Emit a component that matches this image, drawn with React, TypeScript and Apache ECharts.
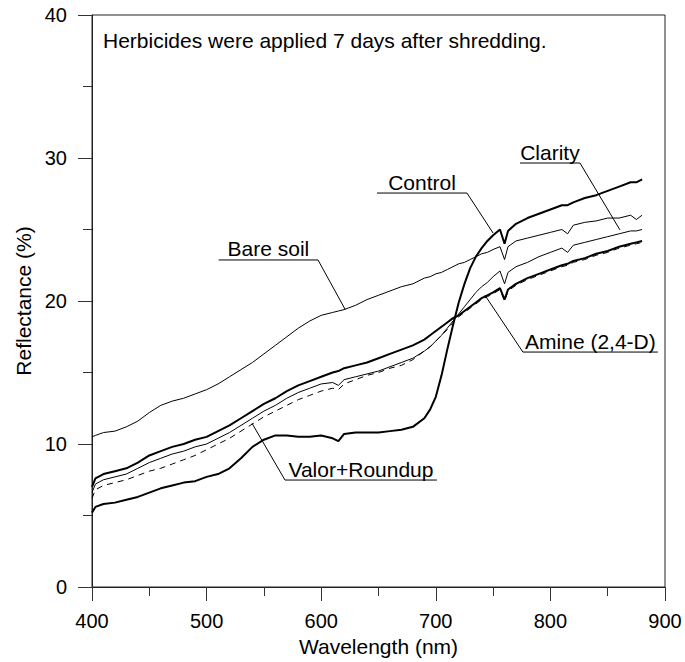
import React, { useEffect, useRef } from "react";
import * as echarts from "echarts";

// Wavelength (nm)
const wavelengths = [
  400, 403, 410, 420, 430, 440, 450, 460, 470, 480, 490, 500, 510, 520, 530, 540, 550, 560, 570, 580, 590, 600, 610, 615,
  620, 630, 640, 650, 660, 670, 680, 690, 695, 700, 705, 710, 715, 720, 725, 730, 735, 740, 745, 750, 756, 760, 763,
  770, 780, 790, 800, 810, 815, 820, 830, 840, 850, 860, 870, 875, 880,
];

// Reflectance (%)
const bareSoil = [
  10.5, 10.6, 10.8, 10.9, 11.2, 11.6, 12.2, 12.7, 13.0, 13.2, 13.5, 13.8, 14.2, 14.7, 15.2, 15.7, 16.3, 16.9, 17.5, 18.1, 18.6, 19.0, 19.2, 19.3,
  19.4, 19.7, 20.1, 20.4, 20.7, 21.0, 21.2, 21.6, 21.7, 21.9, 22.0, 22.2, 22.4, 22.6, 22.7, 22.9, 23.1, 23.3, 23.4, 23.6, 23.8, 22.9, 23.8,
  24.2, 24.4, 24.6, 24.8, 25.0, 24.7, 25.3, 25.5, 25.6, 25.8, 25.8, 26.0, 25.7, 26.0,
];
const control = [
  5.2, 5.6, 5.8, 5.9, 6.1, 6.3, 6.6, 6.9, 7.1, 7.3, 7.4, 7.7, 7.9, 8.3, 9.0, 9.8, 10.3, 10.6, 10.6, 10.5, 10.5, 10.6, 10.4, 10.2,
  10.7, 10.8, 10.8, 10.8, 10.9, 11.0, 11.2, 11.8, 12.4, 13.3, 14.8, 16.6, 18.3, 19.9, 21.2, 22.3, 23.1, 23.7, 24.2, 24.6, 25.0, 24.0, 24.9,
  25.4, 25.8, 26.1, 26.4, 26.7, 26.7, 26.9, 27.2, 27.4, 27.7, 28.0, 28.3, 28.3, 28.5,
];
const amine = [
  7.0, 7.6, 7.9, 8.1, 8.3, 8.7, 9.2, 9.5, 9.8, 10.0, 10.3, 10.5, 10.9, 11.3, 11.8, 12.3, 12.8, 13.2, 13.7, 14.1, 14.4, 14.7, 15.0, 15.1,
  15.3, 15.5, 15.7, 16.0, 16.3, 16.6, 16.9, 17.3, 17.6, 17.9, 18.2, 18.5, 18.8, 19.0, 19.3, 19.6, 19.9, 20.2, 20.4, 20.6, 20.9, 20.1, 20.8,
  21.2, 21.6, 21.9, 22.2, 22.5, 22.6, 22.8, 23.0, 23.3, 23.5, 23.8, 24.0, 24.1, 24.2,
];
const clarity = [
  6.6, 7.2, 7.5, 7.7, 7.9, 8.3, 8.7, 9.0, 9.3, 9.5, 9.8, 10.0, 10.4, 10.8, 11.3, 11.8, 12.3, 12.7, 13.2, 13.6, 13.9, 14.2, 14.3, 14.1,
  14.5, 14.7, 14.9, 15.1, 15.4, 15.7, 16.0, 16.5, 16.8, 17.2, 17.6, 18.1, 18.6, 19.1, 19.6, 20.1, 20.6, 21.0, 21.3, 21.7, 22.1, 21.2, 22.0,
  22.4, 22.7, 23.1, 23.4, 23.7, 23.4, 23.9, 24.1, 24.3, 24.5, 24.7, 24.9, 24.9, 25.0,
];
const valorRoundup = [
  6.2, 6.8, 7.1, 7.3, 7.5, 7.8, 8.1, 8.3, 8.6, 8.9, 9.2, 9.6, 10.0, 10.4, 10.9, 11.4, 11.9, 12.3, 12.7, 13.1, 13.4, 13.7, 13.9, 13.8,
  14.2, 14.5, 14.8, 15.0, 15.3, 15.5, 15.9, 16.5, 16.8, 17.2, 17.6, 18.0, 18.5, 18.9, 19.2, 19.5, 19.8, 20.1, 20.3, 20.5, 20.8, 20.0, 20.7,
  21.1, 21.5, 21.8, 22.1, 22.4, 22.5, 22.7, 22.9, 23.2, 23.4, 23.7, 23.9, 24.0, 24.1,
];

// Curve labels and their leader lines (data coordinates: wavelength, reflectance)
const labelNames = ["Bare soil", "Control", "Clarity", "Amine (2,4-D)", "Valor+Roundup"];
const labelLeaders = [
  [[510.5, 22.87], [597.2, 22.87], [621, 19.4]],
  [[648.7, 27.55], [727.2, 27.55], [750, 24.75]],
  [[773.5, 29.65], [825.8, 29.65], [860.7, 24.97]],
  [[742.9, 20.4], [776, 16.43], [893.8, 16.43]],
  [[539.6, 11.45], [568.4, 7.48], [701, 7.48]],
];
const labelAnchors = [
  [553.9, 22.87],
  [688, 27.55],
  [799.6, 29.65],
  [834.9, 16.43],
  [634.7, 7.48],
];
const noteText = "Herbicides were applied 7 days after shredding.";
const noteAnchor = [409.6, 38.2];

export default function App() {
  const ref = useRef<HTMLDivElement>(null);
  useEffect(() => {
    const chart = echarts.init(ref.current!, null, { renderer: "svg" });
    const font = "'Liberation Sans', Arial, Helvetica, sans-serif";
    const pair = (ys: number[]) => wavelengths.map((w, i) => [w, ys[i]]);
    const curve = (name: string, ys: number[], width: number, dashed: boolean, z: number) => ({
      type: "line",
      name,
      data: pair(ys),
      symbol: "none",
      showSymbol: false,
      silent: true,
      z,
      lineStyle: { color: "#000", width, type: dashed ? [6, 5] : "solid" },
    });
    const axisCommon = {
      type: "value",
      nameLocation: "middle",
      nameTextStyle: { color: "#000", fontSize: 21, fontFamily: font },
      axisLine: { show: true, onZero: false, lineStyle: { color: "#222", width: 1 } },
      axisTick: { show: true, inside: false, length: 14, lineStyle: { color: "#333", width: 1 } },
      minorTick: { show: true, splitNumber: 2, length: 9, lineStyle: { color: "#333", width: 1 } },
      splitLine: { show: false },
      minorSplitLine: { show: false },
    };
    const leaderSeries = labelLeaders.map((pts, i) => ({
      type: "line",
      name: "leader-" + labelNames[i],
      data: pts,
      symbol: "none",
      silent: true,
      z: 1,
      lineStyle: { color: "#000", width: 1 },
    }));
    chart.setOption({
      animation: false,
      backgroundColor: "#fff",
      grid: { left: 92, right: 20, top: 15, bottom: 75, show: true, borderColor: "#222", borderWidth: 1 },
      xAxis: {
        ...axisCommon,
        min: 400,
        max: 900,
        interval: 100,
        name: "Wavelength (nm)",
        nameGap: 48,
        axisLabel: { color: "#000", fontSize: 20, margin: 24, fontFamily: font },
      },
      yAxis: {
        ...axisCommon,
        min: 0,
        max: 40,
        interval: 10,
        name: "Reflectance (%)",
        nameGap: 56,
        axisLabel: { color: "#000", fontSize: 20, margin: 25, fontFamily: font },
      },
      series: [
        curve("Valor+Roundup", valorRoundup, 1, true, 2),
        curve("Bare soil", bareSoil, 1, false, 3),
        curve("Clarity", clarity, 1, false, 3),
        curve("Amine (2,4-D)", amine, 2, false, 4),
        curve("Control", control, 2, false, 5),
        ...leaderSeries,
      ],
    });
    const graphic: any[] = labelNames.map((name, i) => {
      const p = chart.convertToPixel({ gridIndex: 0 }, labelAnchors[i]) as number[];
      return {
        type: "text",
        x: p[0],
        y: p[1] - 11,
        silent: true,
        style: {
          text: name,
          fill: "#000",
          font: `21px ${font}`,
          textAlign: "center",
          textVerticalAlign: "middle",
        },
      };
    });
    const np = chart.convertToPixel({ gridIndex: 0 }, noteAnchor) as number[];
    graphic.push({
      type: "text",
      x: np[0],
      y: np[1],
      silent: true,
      style: {
        text: noteText,
        fill: "#000",
        font: `21px ${font}`,
        textAlign: "left",
        textVerticalAlign: "middle",
      },
    });
    chart.setOption({ graphic });
    return () => chart.dispose();
  }, []);
  return (
    <div
      ref={ref}
      style={{ position: "fixed", left: 0, top: 0, width: 685, height: 662, background: "#fff" }}
    />
  );
}
